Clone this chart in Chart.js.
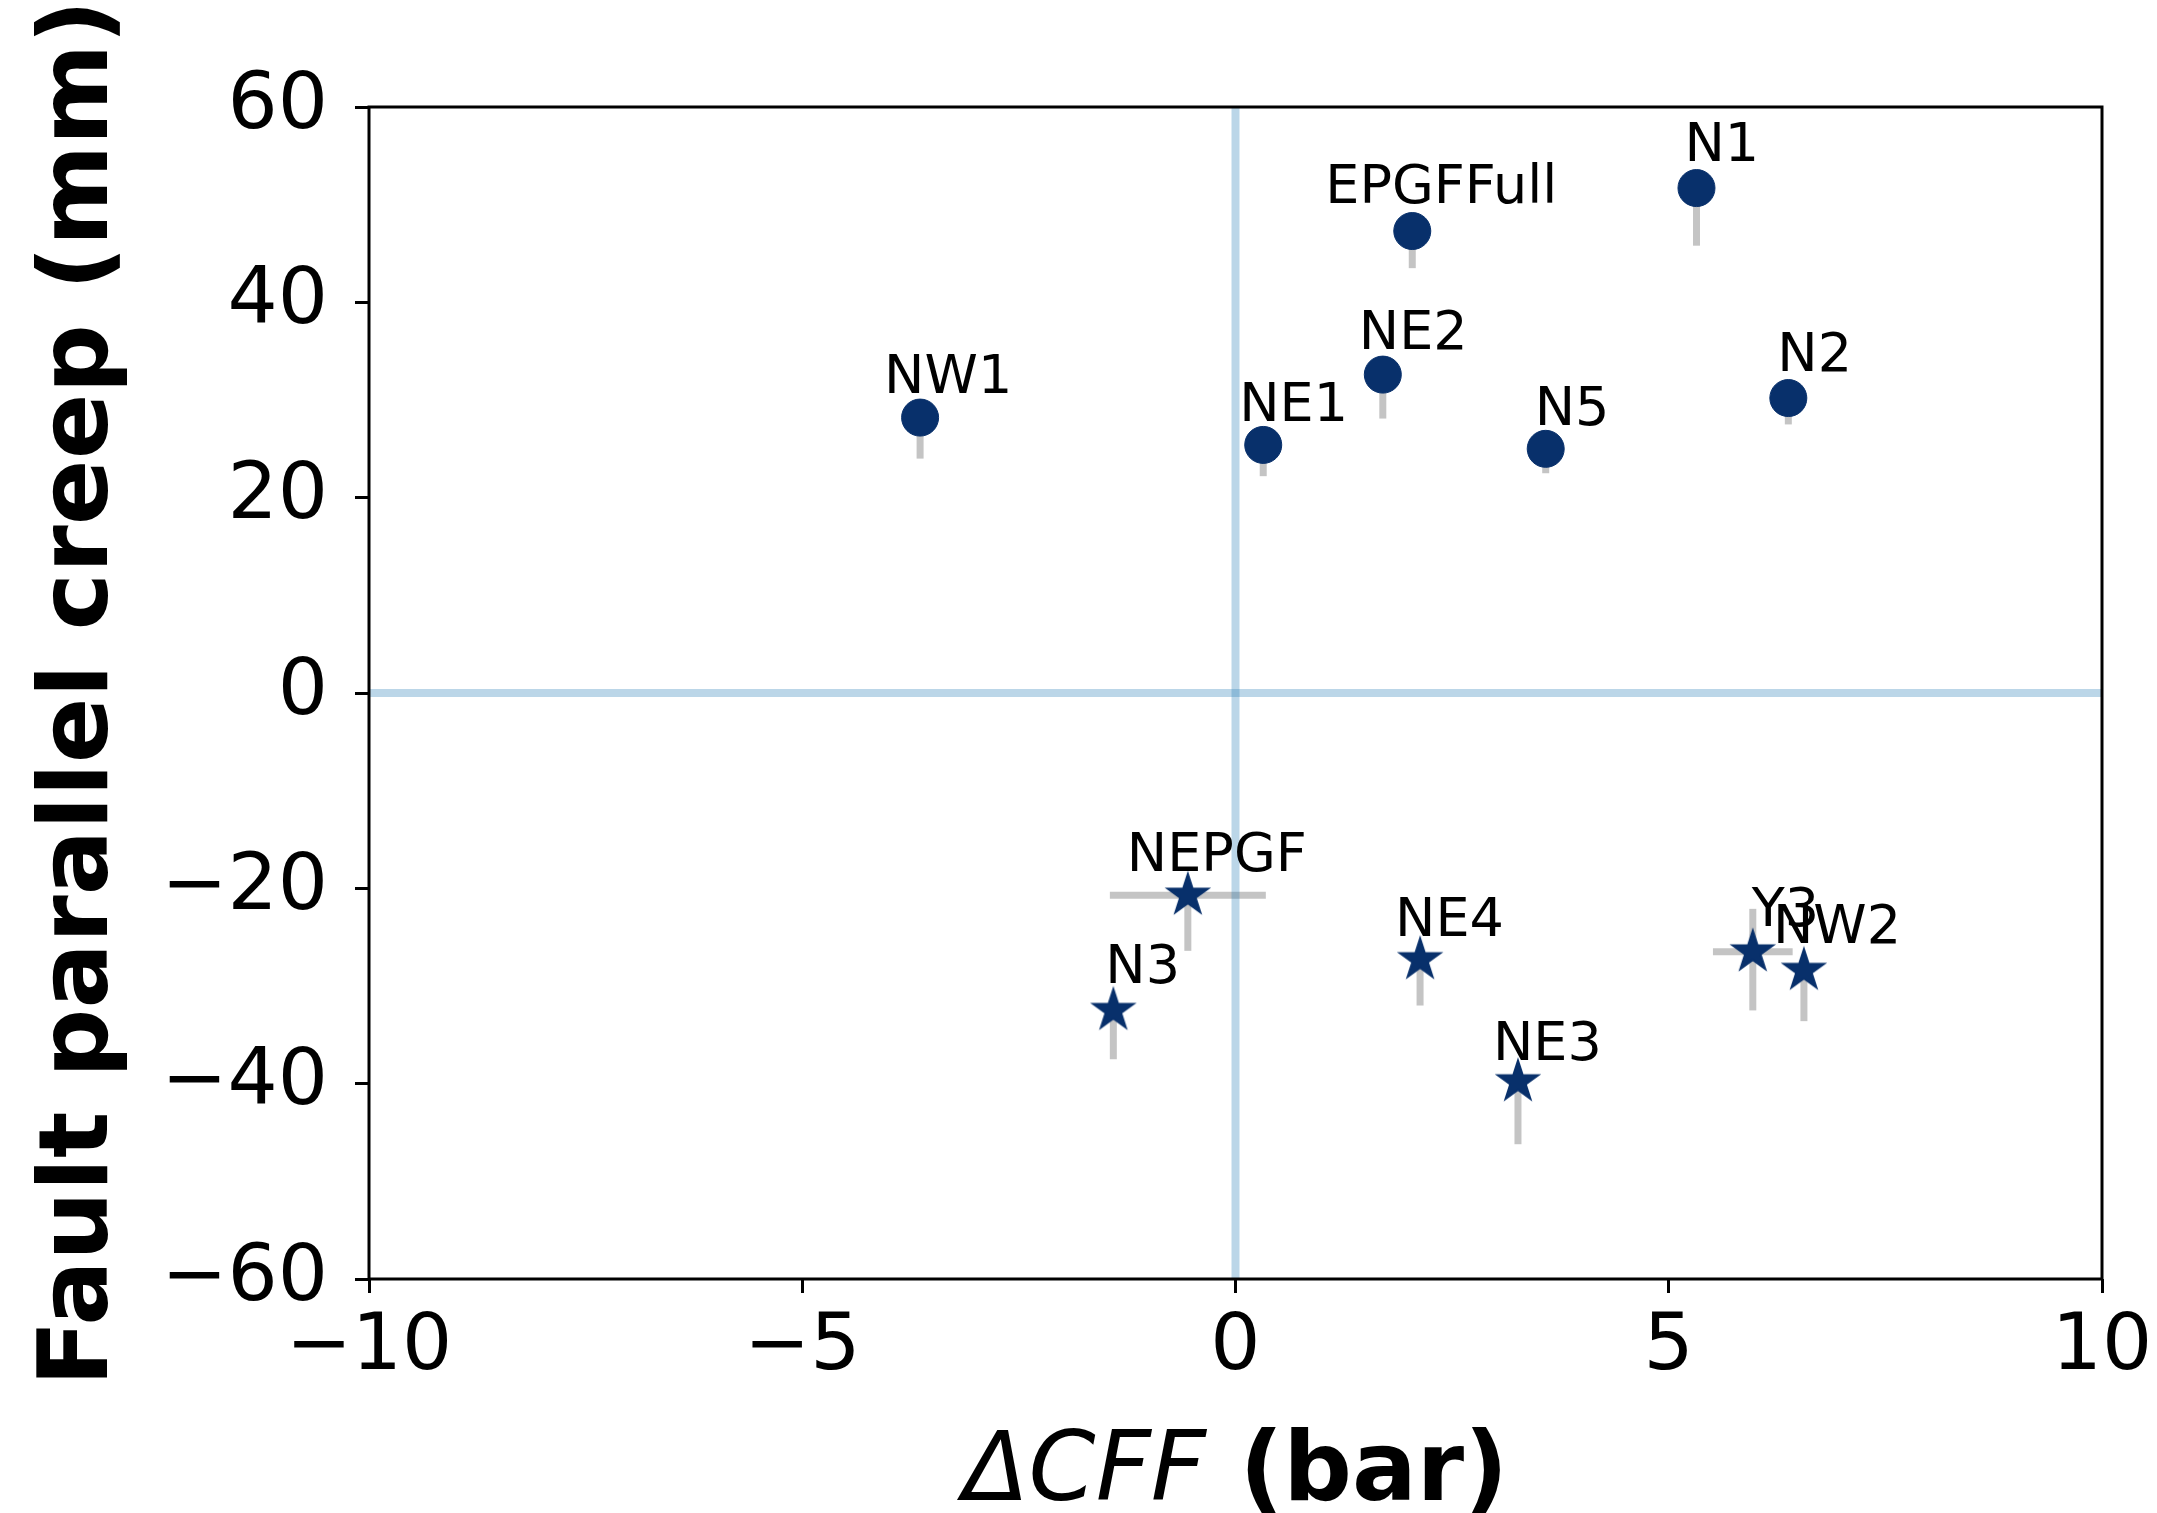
<!DOCTYPE html>
<html>
<head>
<meta charset="utf-8">
<script src="https://cdn.jsdelivr.net/npm/chart.js@4.4.1/dist/chart.umd.min.js"></script>
<style>
  html, body { margin: 0; padding: 0; background: #ffffff; }
  #c { display: block; }
</style>
</head>
<body>
<canvas id="c" width="2157" height="1513"></canvas>
<script>
// Sites, Coulomb stress change (bar) and fault-parallel creep (mm)
const sites        = ['NW1', 'NE1', 'EPGFFull', 'NE2', 'N5', 'N1', 'N2', 'NEPGF', 'N3', 'NE4', 'NE3', 'Y3', 'NW2'];
const dcff         = [-3.64, 0.32, 2.04, 1.70, 3.58, 5.32, 6.38, -0.55, -1.41, 2.13, 3.26, 5.97, 6.56];
const creep        = [28.2, 25.4, 47.3, 32.6, 25.0, 51.7, 30.2, -20.7, -32.5, -27.3, -39.8, -26.5, -28.4];
const creepErrLow  = [4.2, 3.2, 3.8, 4.5, 2.5, 5.9, 2.7, 5.7, 5.0, 4.7, 6.4, 6.0, 5.2];
const creepErrHigh = [0, 0, 0, 0, 0, 0, 0, 0, 0, 0, 0, 4.4, 0];
const dcffErr      = [0, 0, 0, 0, 0, 0, 0, 0.9, 0, 0, 0, 0.46, 0];

const xTicks = [-10, -5, 0, 5, 10];
const yTicks = [-60, -40, -20, 0, 20, 40, 60];

// pixel offset of each site label (left edge, baseline) from its marker
const labelOffsets = [[-36, -25], [-24, -24], [-87, -28], [-24, -26], [-11, -24], [-12, -27], [-11, -27],
                      [-61, -24], [-8, -27], [-25, -24], [-25, -22], [-1, -26], [-31, -27]];

const NAVY = '#08306b';
const ERR_GREY = '#c4c4c4';
const REF_BLUE = 'rgba(31,119,180,0.3)';
const FONT = '"DejaVu Sans", "Liberation Sans", sans-serif';

// filled five-pointed star marker
function makeStar(R) {
  const pad = 3;
  const size = Math.ceil(2 * R + 2 * pad);
  const cv = document.createElement('canvas');
  cv.width = size; cv.height = size;
  const g = cv.getContext('2d');
  const cx = size / 2, cy = size / 2, r = R * 0.381966;
  g.beginPath();
  for (let k = 0; k < 10; k++) {
    const ang = -Math.PI / 2 + k * Math.PI / 5;
    const rad = (k % 2 === 0) ? R : r;
    const px = cx + rad * Math.cos(ang), py = cy + rad * Math.sin(ang);
    if (k === 0) g.moveTo(px, py); else g.lineTo(px, py);
  }
  g.closePath();
  g.fillStyle = NAVY;
  g.fill();
  g.lineWidth = 1.5;
  g.strokeStyle = NAVY;
  g.stroke();
  return cv;
}

const idx = sites.map((_, i) => i);
const upIdx = idx.filter(i => creep[i] >= 0);
const downIdx = idx.filter(i => creep[i] < 0);

const minusSign = v => String(v).replace('-', '\u2212');

// error bars and zero reference lines, beneath the markers
const underlayPlugin = {
  id: 'underlay',
  beforeDatasetsDraw(chart) {
    const { ctx, chartArea: a, scales: { x, y } } = chart;
    ctx.save();
    ctx.beginPath();
    ctx.rect(a.left, a.top, a.right - a.left, a.bottom - a.top);
    ctx.clip();
    ctx.strokeStyle = ERR_GREY;
    ctx.lineWidth = 7;
    ctx.lineCap = 'butt';
    idx.forEach(i => {
      const px = x.getPixelForValue(dcff[i]);
      const py = y.getPixelForValue(creep[i]);
      ctx.beginPath();
      ctx.moveTo(px, y.getPixelForValue(creep[i] - creepErrLow[i]));
      ctx.lineTo(px, y.getPixelForValue(creep[i] + creepErrHigh[i]));
      ctx.stroke();
      if (dcffErr[i] > 0) {
        ctx.beginPath();
        ctx.moveTo(x.getPixelForValue(dcff[i] - dcffErr[i]), py);
        ctx.lineTo(x.getPixelForValue(dcff[i] + dcffErr[i]), py);
        ctx.stroke();
      }
    });
    ctx.strokeStyle = REF_BLUE;
    ctx.lineWidth = 8;
    const x0 = x.getPixelForValue(0), y0 = y.getPixelForValue(0);
    ctx.beginPath();
    ctx.moveTo(x0, a.top); ctx.lineTo(x0, a.bottom);
    ctx.stroke();
    ctx.beginPath();
    ctx.moveTo(a.left, y0); ctx.lineTo(a.right, y0);
    ctx.stroke();
    ctx.restore();
  }
};

// site names next to each marker
const siteLabelPlugin = {
  id: 'siteLabels',
  afterDatasetsDraw(chart) {
    const { ctx, scales: { x, y } } = chart;
    ctx.save();
    ctx.font = '54px ' + FONT;
    ctx.fillStyle = '#000';
    ctx.textAlign = 'left';
    ctx.textBaseline = 'alphabetic';
    idx.forEach(i => {
      const px = x.getPixelForValue(dcff[i]);
      const py = y.getPixelForValue(creep[i]);
      ctx.fillText(sites[i], px + labelOffsets[i][0], py + labelOffsets[i][1]);
    });
    ctx.restore();
  }
};

// axes frame and axis titles
const frameTitlePlugin = {
  id: 'frameTitles',
  afterDraw(chart) {
    const { ctx, chartArea: a } = chart;
    ctx.save();
    ctx.strokeStyle = '#000';
    ctx.lineWidth = 3;
    ctx.strokeRect(a.left, a.top, a.right - a.left, a.bottom - a.top);

    ctx.fillStyle = '#000';
    ctx.textBaseline = 'alphabetic';
    // x title: italic quantity followed by bold unit
    const part1 = '\u0394CFF', part2 = ' (bar)';
    const f1 = 'italic 96px ' + FONT, f2 = 'bold 96px ' + FONT;
    ctx.font = f1; const w1 = ctx.measureText(part1).width;
    ctx.font = f2; const w2 = ctx.measureText(part2).width;
    const cx = (a.left + a.right) / 2;
    let sx = cx - (w1 + w2) / 2;
    ctx.textAlign = 'left';
    ctx.font = f1; ctx.fillText(part1, sx, 1500);
    ctx.font = f2; ctx.fillText(part2, sx + w1, 1500);

    // y title, rotated
    ctx.translate(107, (a.top + a.bottom) / 2);
    ctx.rotate(-Math.PI / 2);
    ctx.textAlign = 'center';
    ctx.font = 'bold 97px ' + FONT;
    ctx.fillText('Fault parallel creep (mm)', 0, 0);
    ctx.restore();
  }
};

const PLOT_LEFT = 369, PLOT_RIGHT = 2102, PLOT_TOP = 107, PLOT_BOTTOM = 1279;
const CANVAS_W = 2157, CANVAS_H = 1513;

new Chart(document.getElementById('c'), {
  type: 'scatter',
  data: {
    datasets: [
      {
        label: 'creep > 0',
        data: upIdx.map(i => ({ x: dcff[i], y: creep[i] })),
        pointStyle: 'circle',
        pointRadius: 18.5,
        pointBackgroundColor: NAVY,
        pointBorderColor: NAVY,
        pointBorderWidth: 1
      },
      {
        label: 'creep < 0',
        data: downIdx.map(i => ({ x: dcff[i], y: creep[i] })),
        pointStyle: makeStar(22),
        pointRadius: 22
      }
    ]
  },
  options: {
    responsive: false,
    animation: false,
    devicePixelRatio: 1,
    events: [],
    layout: {
      padding: { left: 0, right: CANVAS_W - PLOT_RIGHT, top: PLOT_TOP, bottom: 0 }
    },
    plugins: {
      legend: { display: false },
      tooltip: { enabled: false },
      title: { display: false }
    },
    scales: {
      x: {
        type: 'linear',
        position: 'bottom',
        min: -10, max: 10,
        afterBuildTicks: s => { s.ticks = xTicks.map(v => ({ value: v })); },
        afterFit: s => { s.height = CANVAS_H - PLOT_BOTTOM; s.paddingLeft = 0; s.paddingRight = 0; },
        ticks: {
          font: { family: FONT, size: 79 },
          color: '#000',
          padding: 8,
          maxRotation: 0,
          autoSkip: false,
          callback: v => minusSign(v)
        },
        grid: { display: true, drawOnChartArea: false, drawTicks: true, tickLength: 14, tickWidth: 3, tickColor: '#000' },
        border: { display: false },
        title: { display: false }
      },
      y: {
        type: 'linear',
        position: 'left',
        min: -60, max: 60,
        afterBuildTicks: s => { s.ticks = yTicks.map(v => ({ value: v })); },
        afterFit: s => { s.width = PLOT_LEFT; s.paddingTop = 0; s.paddingBottom = 0; },
        ticks: {
          font: { family: FONT, size: 79 },
          color: '#000',
          padding: 27,
          autoSkip: false,
          callback: v => minusSign(v)
        },
        grid: { display: true, drawOnChartArea: false, drawTicks: true, tickLength: 14, tickWidth: 3, tickColor: '#000' },
        border: { display: false },
        title: { display: false }
      }
    }
  },
  plugins: [underlayPlugin, siteLabelPlugin, frameTitlePlugin]
});
</script>
</body>
</html>
